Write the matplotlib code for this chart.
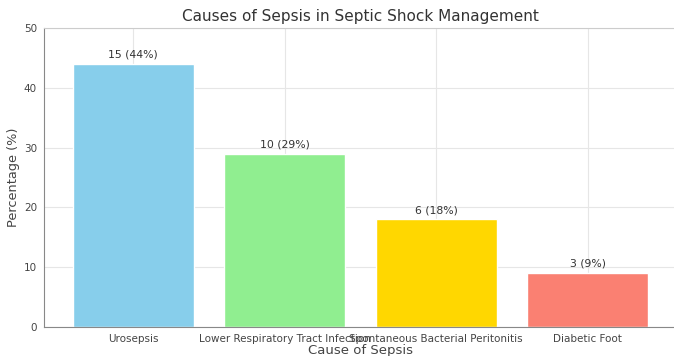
import matplotlib
matplotlib.use("Agg")
import matplotlib.pyplot as plt
import seaborn as sns

# Data
causes = ["Urosepsis", "Lower Respiratory Tract Infection",
          "Spontaneous Bacterial Peritonitis", "Diabetic Foot"]
counts = [15, 10, 6, 3]
percentages = [44, 29, 18, 9]
colors = ["skyblue", "lightgreen", "gold", "salmon"]

sns.set_style("whitegrid")
plt.rcParams['font.family'] = ['DejaVu Sans']

fig = plt.figure(figsize=(6.74, 3.56), dpi=100)
ax = fig.add_axes([44 / 674, 29 / 356, 633 / 674, 299 / 356])

bars = ax.bar(causes, percentages, color=colors, width=0.8)
for bar, n, p in zip(bars, counts, percentages):
    ax.text(bar.get_x() + bar.get_width() / 2, bar.get_height() + 0.7,
            "{} ({}%)".format(n, p), ha='center', va='bottom', fontsize=7.8,
            color='#333333')

ax.set_ylim(0, 50)
ax.set_title("Causes of Sepsis in Septic Shock Management", fontsize=11,
             pad=5, color='#333333')
ax.set_xlabel("Cause of Sepsis", fontsize=9.5, labelpad=0, color='#444444')
ax.set_ylabel("Percentage (%)", fontsize=9.3, labelpad=3, color='#444444')
ax.tick_params(axis='both', labelsize=7.5, length=3, pad=2, color='#888888',
               labelcolor='#444444')
for s in ['left', 'bottom']:
    ax.spines[s].set_color('#888888')
ax.grid(True, color='#e6e6e6', linewidth=0.8)

fig.savefig("out.png", dpi=100)
